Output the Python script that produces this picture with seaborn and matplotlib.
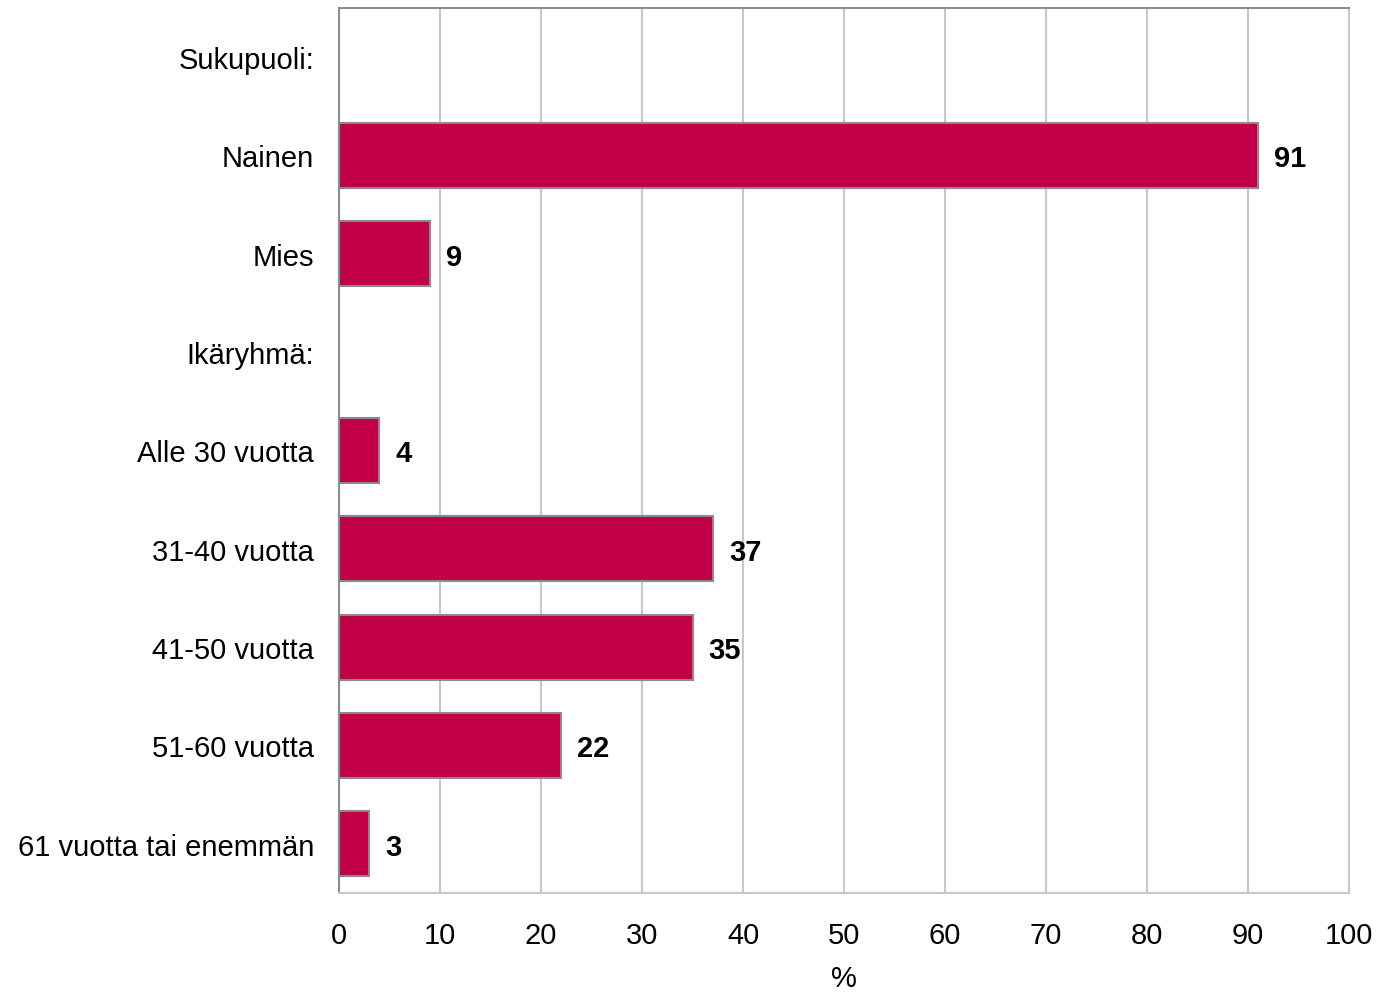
import numpy as np
import pandas as pd
import matplotlib
matplotlib.use("Agg")
import matplotlib.pyplot as plt
import seaborn as sns

categories = ["Sukupuoli:", "Nainen", "Mies", "Ikäryhmä:", "Alle 30 vuotta",
              "31-40 vuotta", "41-50 vuotta", "51-60 vuotta", "61 vuotta tai enemmän"]
values = [np.nan, 91, 9, np.nan, 4, 37, 35, 22, 3]
x_ticks = [0, 10, 20, 30, 40, 50, 60, 70, 80, 90, 100]

sns.set_theme(style="white")
plt.rcParams["font.family"] = ["Liberation Sans", "DejaVu Sans"]
plt.rcParams["text.color"] = "black"
plt.rcParams["xtick.color"] = "black"
plt.rcParams["ytick.color"] = "black"
plt.rcParams["axes.labelcolor"] = "black"

FS = 21

df = pd.DataFrame({"cat": categories, "val": values})

fig = plt.figure(figsize=(13.83, 9.95), dpi=100)
ax = fig.add_axes([339 / 1383, 1 - 894 / 995, (1349 - 339) / 1383, (894 - 9) / 995])

sns.barplot(data=df, y="cat", x="val", order=categories, color="#C20047",
            orient="h", width=0.66, edgecolor="#8a8a8a", linewidth=1.5,
            saturation=1, ax=ax, zorder=3)

ax.set_xlim(0, 100)
ax.set_ylim(len(categories) - 0.5, -0.5)
ax.set_xticks(x_ticks)
ax.set_xticklabels([str(t) for t in x_ticks], fontsize=FS)
ax.tick_params(axis="y", labelsize=FS, length=0, pad=18)
ax.tick_params(axis="x", length=0, pad=20)
ax.xaxis.grid(True, color="#c8c8c8", linewidth=1.5, zorder=0)
ax.set_axisbelow(True)
ax.set_xlabel("%", fontsize=FS, labelpad=11)
ax.set_ylabel("")

for side in ["left", "top"]:
    ax.spines[side].set_color("#8c8c8c")
    ax.spines[side].set_linewidth(1.5)
for side in ["right", "bottom"]:
    ax.spines[side].set_color("#c8c8c8")
    ax.spines[side].set_linewidth(1.5)

for i, v in enumerate(values):
    if not np.isnan(v):
        ax.text(v + 1.6, i + 0.03, f"{v:.0f}", va="center", ha="left",
                fontsize=FS, fontweight="bold", color="black")

fig.savefig("out.png", dpi=100)
